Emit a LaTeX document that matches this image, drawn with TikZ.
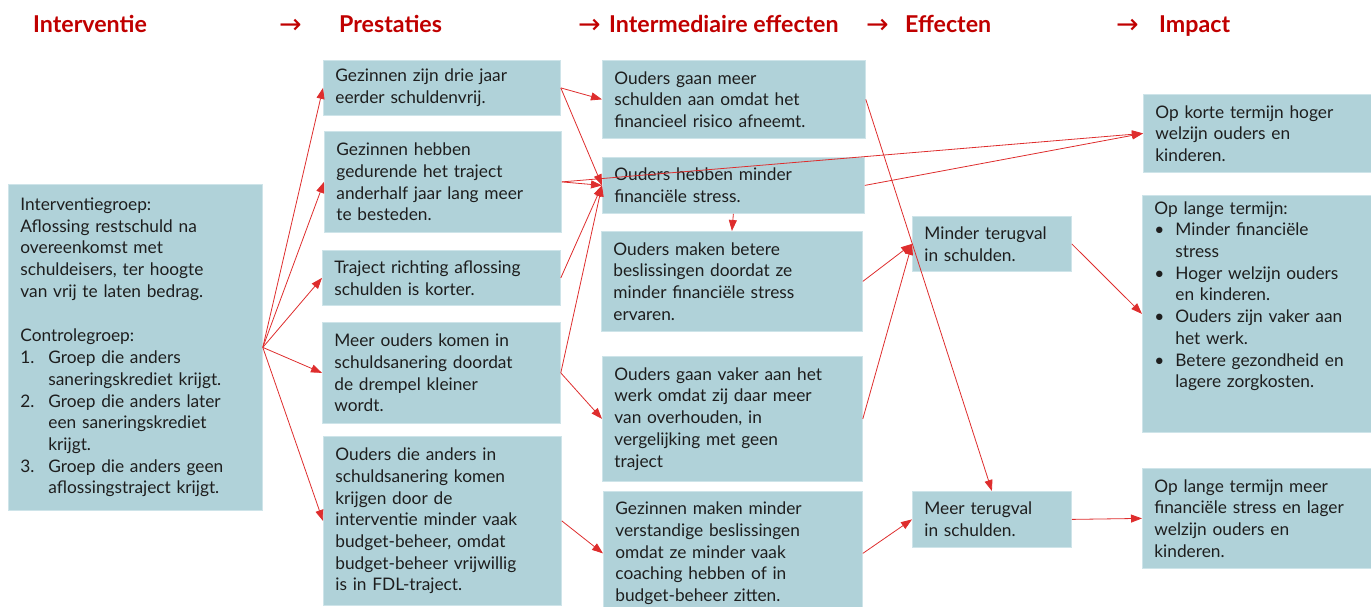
\documentclass[tikz,border=0pt]{standalone}
\usepackage{fontspec}
\setmainfont{Lato}
\newfontfamily\arrowfont{DejaVu Sans}
\usetikzlibrary{arrows.meta}

\definecolor{boxblue}{RGB}{176,210,217}
\definecolor{boxedge}{RGB}{206,228,233}
\definecolor{linkred}{RGB}{222,45,45}
\definecolor{headred}{RGB}{192,0,0}
\definecolor{inktext}{RGB}{30,30,30}

\newcommand{\hangline}[3]{\par\hangindent=#1\hangafter=1\noindent\makebox[#1][l]{#2}#3\par}

\begin{document}
\begin{tikzpicture}[
  x=1pt, y=-1pt,
  box/.style={fill=boxblue, draw=boxedge, line width=0.8pt, anchor=north west, align=left, inner xsep=12pt, inner ysep=6pt, text=inktext, font=\fontsize{17.3}{21.7}\selectfont},
  head/.style={anchor=base west, inner sep=0pt, text=headred, font=\fontsize{23.2}{27}\selectfont\bfseries},
  headarrow/.style={anchor=base west, inner sep=0pt, text=headred, font=\arrowfont\fontsize{27}{30}\selectfont},
  link/.style={draw=linkred, line width=0.8pt, -{Triangle[length=11pt,width=8pt]}}
]
  \useasboundingbox (0,0) rectangle (1371,607);

  \node[head] (hint) at (33,33) {Interventie};
  \node[headarrow] (a1) at (279,34) {→};
  \node[head] (hpres) at (339,33) {Prestaties};
  \node[headarrow] (a2) at (578,34) {→};
  \node[head] (hmid) at (609,33) {Intermediaire effecten};
  \node[headarrow] (a3) at (866,34) {→};
  \node[head] (heff) at (905,33) {Effecten};
  \node[headarrow] (a4) at (1116,34) {→};
  \node[head] (himp) at (1159,33) {Impact};

  \node[box, text width=230pt, minimum height=326pt] (int) at (8,184) {Interventiegroep:\\ Aflossing restschuld na\\ overeenkomst met\\ schuldeisers, ter hoogte\\ van vrij te laten bedrag.\\[23pt] Controlegroep:\hangline{28pt}{1.}{Groep die anders\newline saneringskrediet krijgt.}\hangline{28pt}{2.}{Groep die anders later\newline een saneringskrediet\newline krijgt.}\hangline{28pt}{3.}{Groep die anders geen\newline aflossingstraject krijgt.}};

  \node[box, text width=213pt, minimum height=55pt] (p1) at (323,60) {Gezinnen zijn drie jaar\\ eerder schuldenvrij.};
  \node[box, text width=213pt, minimum height=101pt] (p2) at (324,131) {Gezinnen hebben\\ gedurende het traject\\ anderhalf jaar lang meer\\ te besteden.};
  \node[box, text width=214pt, minimum height=55pt] (p3) at (322,250) {Traject richting aflossing\\ schulden is korter.};
  \node[box, text width=214pt, minimum height=101pt] (p4) at (322,322) {Meer ouders komen in\\ schuldsanering doordat\\ de drempel kleiner\\ wordt.};
  \node[box, text width=214pt, minimum height=169pt] (p5) at (323,436) {Ouders die anders in\\ schuldsanering komen\\ krijgen door de\\ interventie minder vaak\\ budget-beheer, omdat\\ budget-beheer vrijwillig\\ is in FDL-traject.};

  \node[box, text width=239pt, minimum height=78pt] (m1) at (602,60) {Ouders gaan meer\\ schulden aan omdat het\\ financieel risico afneemt.};
  \node[box, text width=238pt, minimum height=56pt] (m2) at (602,157) {Ouders hebben minder\\ financiële stress.};
  \node[box, text width=237pt, minimum height=100pt] (m3) at (601,231) {Ouders maken betere\\ beslissingen doordat ze\\ minder financiële stress\\ ervaren.};
  \node[box, text width=236pt, minimum height=125pt] (m4) at (602,356) {Ouders gaan vaker aan het\\ werk omdat zij daar meer\\ van overhouden, in\\ vergelijking met geen\\ traject};
  \node[box, text width=235pt, minimum height=124pt] (m5) at (603,491) {Gezinnen maken minder\\ verstandige beslissingen\\ omdat ze minder vaak\\ coaching hebben of in\\ budget-beheer zitten.};

  \node[box, text width=135pt, minimum height=55pt] (e1) at (912,216) {Minder terugval\\ in schulden.};
  \node[box, text width=135pt, minimum height=56pt] (e2) at (912,491) {Meer terugval\\ in schulden.};

  \node[box, text width=236pt, minimum height=78pt] (im1) at (1143,94) {Op korte termijn hoger\\ welzijn ouders en\\ kinderen.};
  \node[box, text width=236pt, minimum height=237pt] (im2) at (1142,195) {\parbox[c][225pt][t]{\linewidth}{Op lange termijn:\hangline{21pt}{\textbullet}{Minder financiële\newline stress}\hangline{21pt}{\textbullet}{Hoger welzijn ouders\newline en kinderen.}\hangline{21pt}{\textbullet}{Ouders zijn vaker aan\newline het werk.}\hangline{21pt}{\textbullet}{Betere gezondheid en\newline lagere zorgkosten.}}};
  \node[box, text width=236pt, minimum height=100pt] (im3) at (1142,468) {Op lange termijn meer\\ financiële stress en lager\\ welzijn ouders en\\ kinderen.};

  \foreach \p in {p1,p2,p3,p4,p5}
    \draw[link] (int.east) -- (\p.west);
  \draw[link] (p1.east) -- (m1.west);
  \draw[link] (p1.east) -- (m2.west);
  \draw[link] (p2.east) -- (m2.west);
  \draw[link] (p2.east) -- (im1.west);
  \draw[link] (p3.east) -- (m2.west);
  \draw[link] (p4.east) -- (m2.west);
  \draw[link] (p4.east) -- (m4.west);
  \draw[link] (p5.east) -- (m5.west);
  \draw[link] (m1.east) -- (e2.north);
  \draw[link] (m2.south) -- (m3.north);
  \draw[link] (m2.east) -- (im1.west);
  \draw[link] (m3.east) -- (e1.west);
  \draw[link] (m4.east) -- (e1.west);
  \draw[link] (m5.east) -- (e2.west);
  \draw[link] (e1.east) -- (im2.west);
  \draw[link] (e2.east) -- (im3.west);
\end{tikzpicture}
\end{document}
